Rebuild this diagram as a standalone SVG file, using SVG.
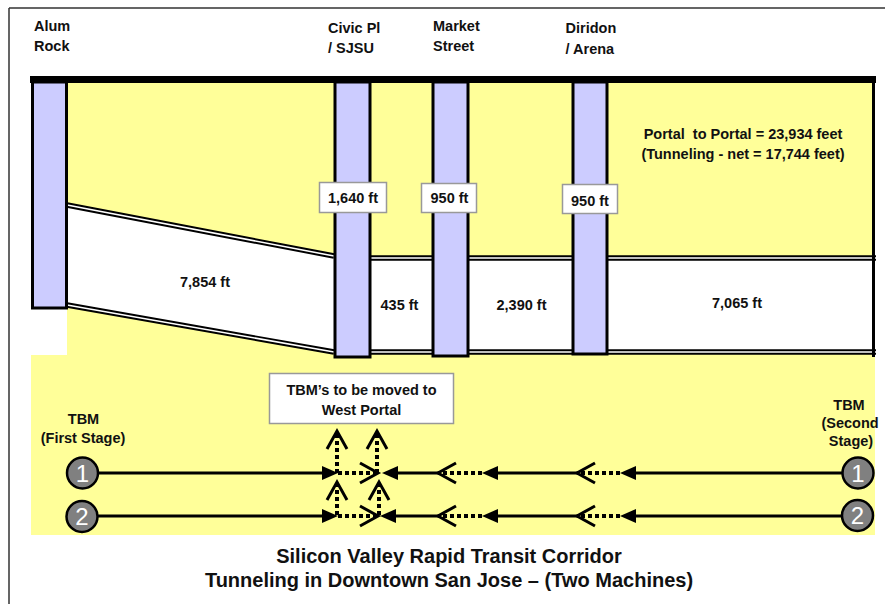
<svg xmlns="http://www.w3.org/2000/svg" width="885" height="604" viewBox="0 0 885 604">
<style>
.t{font-family:"Liberation Sans",Arial,sans-serif;font-weight:bold;font-size:14.5px;fill:#111}
.m{text-anchor:middle}
.ttl{font-family:"Liberation Sans",Arial,sans-serif;font-weight:bold;font-size:20px;fill:#111;text-anchor:middle}
.col{fill:#CCCCFF;stroke:#000;stroke-width:3}
.box{fill:#fff;stroke:#999;stroke-width:1.5}
.tb{stroke:#000;stroke-width:5.5;fill:none}
.tw{stroke:#fff;stroke-width:1.6;fill:none}
.sol{stroke:#000;stroke-width:3;fill:none;marker-end:url(#fa)}
.dot{stroke:#000;stroke-width:4;stroke-dasharray:4 3;fill:none;marker-end:url(#ch)}
.circ{fill:#808080;stroke:#000;stroke-width:2.5}
.num{font-family:"Liberation Sans",Arial,sans-serif;font-size:24px;fill:#fff;text-anchor:middle}
</style>
<defs>
<marker id="fa" markerUnits="userSpaceOnUse" markerWidth="16" markerHeight="14" refX="10" refY="7" orient="auto" viewBox="0 0 16 14">
<path d="M0,0 L16,7 L0,14 Z" fill="#000"/>
</marker>
<marker id="ch" markerUnits="userSpaceOnUse" markerWidth="24" markerHeight="26" refX="20" refY="13" orient="auto" viewBox="0 0 24 26" overflow="visible">
<path d="M2,3 L20,13 L2,23" fill="none" stroke="#000" stroke-width="3"/>
</marker>
</defs>
<rect width="885" height="604" fill="#fff"/>
<g id="frame">
<path d="M9,8 H885 M9,8 V604" stroke="#333" stroke-width="1.5" fill="none"/>
</g>
<g id="ground">
<rect x="31" y="355" width="844" height="180" fill="#FFFF99"/>
<rect x="67" y="80" width="806" height="277" fill="#FFFF99"/>
</g>
<g id="tunnel">
<polygon points="67,205 334,256 873,258 873,352 334,352 67,305" fill="#fff"/>
<path class="tb" d="M67,205 L334,256 M67,305 L334,352 M334,258 H876 M334,352 H876"/>
<path class="tw" d="M67,205 L334,256 M67,305 L334,352 M334,258 H876 M334,352 H876"/>
</g>
<g id="alum-rock">
<rect class="col" x="32.5" y="82" width="34" height="226"/>
<text class="t" x="34" y="30.5">Alum</text>
<text class="t" x="34" y="50.5">Rock</text>
</g>
<g id="civic">
<rect class="col" x="335" y="82" width="35" height="275"/>
<text class="t" x="328" y="33">Civic Pl</text>
<text class="t" x="328" y="53">/ SJSU</text>
<rect class="box" x="319.5" y="182.5" width="67" height="30"/>
<text class="t m" x="353" y="203">1,640 ft</text>
</g>
<g id="market">
<rect class="col" x="433" y="82" width="35" height="274"/>
<text class="t" x="433" y="30.5">Market</text>
<text class="t" x="433" y="51">Street</text>
<rect class="box" x="421.5" y="183.5" width="55" height="29"/>
<text class="t m" x="449.5" y="203">950 ft</text>
</g>
<g id="diridon">
<rect class="col" x="573" y="82" width="34" height="272"/>
<text class="t" x="565.5" y="33">Diridon</text>
<text class="t" x="565.5" y="53.5">/ Arena</text>
<rect class="box" x="562.5" y="184.5" width="55" height="29"/>
<text class="t m" x="590" y="205.5">950 ft</text>
</g>
<g id="top-bar">
<rect x="30" y="76" width="846" height="7" fill="#000"/>
<rect x="872" y="80" width="3" height="277" fill="#000"/>
</g>
<g id="lengths">
<text class="t m" x="205" y="286.5">7,854 ft</text>
<text class="t m" x="399.5" y="310">435 ft</text>
<text class="t m" x="521.5" y="310">2,390 ft</text>
<text class="t m" x="737" y="308">7,065 ft</text>
<text class="t m" x="743" y="139" xml:space="preserve">Portal  to Portal = 23,934 feet</text>
<text class="t m" x="743" y="159">(Tunneling - net = 17,744 feet)</text>
</g>
<g id="tbm-note">
<rect class="box" x="269.5" y="373.5" width="184" height="50"/>
<text class="t m" x="361.5" y="395">TBM’s to be moved to</text>
<text class="t m" x="361.5" y="415">West Portal</text>
</g>
<g id="tbm-first">
<text class="t m" x="83.5" y="424">TBM</text>
<text class="t m" x="83" y="443">(First Stage)</text>
<circle class="circ" cx="82.5" cy="473" r="15.5"/>
<text class="num" x="82.5" y="481.5">1</text>
<circle class="circ" cx="82" cy="516.5" r="15.5"/>
<text class="num" x="82" y="525">2</text>
</g>
<g id="tbm-second">
<text class="t m" x="849" y="410">TBM</text>
<text class="t m" x="850" y="428">(Second</text>
<text class="t m" x="851" y="446">Stage)</text>
<circle class="circ" cx="858" cy="473" r="15.5"/>
<text class="num" x="858" y="481.5">1</text>
<circle class="circ" cx="857.5" cy="515.5" r="15.5"/>
<text class="num" x="857.5" y="524">2</text>
</g>
<g id="connectors">
<path class="sol" d="M98,473 H332"/>
<path class="dot" d="M338,473 H378"/>
<path class="sol" d="M441,473 H388"/>
<path class="dot" d="M482,473 H438"/>
<path class="sol" d="M577,473 H488"/>
<path class="dot" d="M620,473 H577"/>
<path class="sol" d="M842,473 H626"/>
<path class="dot" d="M337,473 V431"/>
<path class="dot" d="M377,473 V431"/>
<path class="sol" d="M97,516 H332"/>
<path class="dot" d="M338,516 H378"/>
<path class="sol" d="M441,516 H386"/>
<path class="dot" d="M482,516 H438"/>
<path class="sol" d="M577,516 H488"/>
<path class="dot" d="M620,516 H577"/>
<path class="sol" d="M842,516 H626"/>
<path class="dot" d="M337,515 V482"/>
<path class="dot" d="M379,515 V482"/>
</g>
<g id="title">
<text class="ttl" x="449" y="563">Silicon Valley Rapid Transit Corridor</text>
<text class="ttl" x="449" y="587">Tunneling in Downtown San Jose – (Two Machines)</text>
</g>
</svg>
